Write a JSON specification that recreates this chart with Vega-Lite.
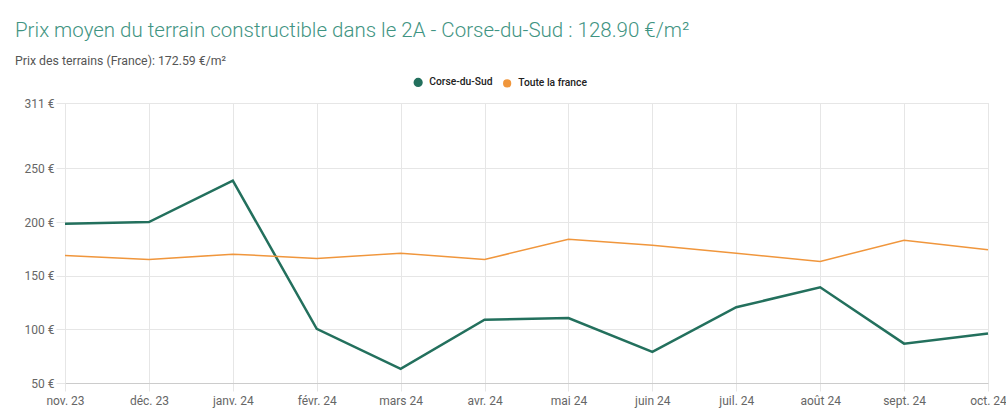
{
  "$schema": "https://vega.github.io/schema/vega-lite/v6.json",
  "width": 923,
  "height": 280,
  "autosize": {"type": "none"},
  "padding": {"left": 65, "top": 103, "right": 18, "bottom": 27},
  "background": "white",
  "title": {
    "text": "Prix moyen du terrain constructible dans le 2A - Corse-du-Sud : 128.90 €/m²",
    "subtitle": "Prix des terrains (France): 172.59 €/m²",
    "anchor": "start",
    "frame": "group",
    "dx": -50,
    "offset": 10,
    "font": "Roboto",
    "fontSize": 20.5,
    "fontWeight": 300,
    "color": "#3f9482",
    "subtitleFont": "Roboto",
    "subtitleFontSize": 12.3,
    "subtitleColor": "#555555",
    "subtitlePadding": 13
  },
  "data": {
    "values": [
      {"mois": "nov. 23", "serie": "Corse-du-Sud", "prix": 198.5},
      {"mois": "déc. 23", "serie": "Corse-du-Sud", "prix": 200},
      {"mois": "janv. 24", "serie": "Corse-du-Sud", "prix": 238.6},
      {"mois": "févr. 24", "serie": "Corse-du-Sud", "prix": 100.5},
      {"mois": "mars 24", "serie": "Corse-du-Sud", "prix": 63.2},
      {"mois": "avr. 24", "serie": "Corse-du-Sud", "prix": 109},
      {"mois": "mai 24", "serie": "Corse-du-Sud", "prix": 110.5},
      {"mois": "juin 24", "serie": "Corse-du-Sud", "prix": 79},
      {"mois": "juil. 24", "serie": "Corse-du-Sud", "prix": 120.6},
      {"mois": "août 24", "serie": "Corse-du-Sud", "prix": 139.2},
      {"mois": "sept. 24", "serie": "Corse-du-Sud", "prix": 86.7},
      {"mois": "oct. 24", "serie": "Corse-du-Sud", "prix": 96.1},
      {"mois": "nov. 23", "serie": "Toute la france", "prix": 168.8},
      {"mois": "déc. 23", "serie": "Toute la france", "prix": 165.1},
      {"mois": "janv. 24", "serie": "Toute la france", "prix": 170.1},
      {"mois": "févr. 24", "serie": "Toute la france", "prix": 166},
      {"mois": "mars 24", "serie": "Toute la france", "prix": 171},
      {"mois": "avr. 24", "serie": "Toute la france", "prix": 165.1},
      {"mois": "mai 24", "serie": "Toute la france", "prix": 184},
      {"mois": "juin 24", "serie": "Toute la france", "prix": 178.4},
      {"mois": "juil. 24", "serie": "Toute la france", "prix": 171},
      {"mois": "août 24", "serie": "Toute la france", "prix": 163.3},
      {"mois": "sept. 24", "serie": "Toute la france", "prix": 183.1},
      {"mois": "oct. 24", "serie": "Toute la france", "prix": 174.1}
    ]
  },
  "mark": {"type": "line"},
  "encoding": {
    "x": {
      "field": "mois",
      "type": "ordinal",
      "sort": null,
      "scale": {"type": "point", "padding": 0},
      "axis": {
        "title": null,
        "labelAngle": 0,
        "labelFont": "Roboto",
        "labelFontSize": 12,
        "labelColor": "#666666",
        "labelPadding": 4,
        "tickSize": 8,
        "tickColor": "#e6e6e6",
        "domainColor": "#cccccc",
        "grid": true,
        "gridColor": "#e6e6e6"
      }
    },
    "y": {
      "field": "prix",
      "type": "quantitative",
      "scale": {"domain": [50, 311], "nice": false, "zero": false},
      "axis": {
        "title": null,
        "values": [50, 100, 150, 200, 250, 311],
        "labelExpr": "datum.value + ' €'",
        "labelFont": "Roboto",
        "labelFontSize": 12,
        "labelColor": "#666666",
        "labelPadding": 2,
        "tickSize": 9,
        "tickColor": "#e6e6e6",
        "domain": false,
        "grid": true,
        "gridColor": "#e6e6e6"
      }
    },
    "color": {
      "field": "serie",
      "type": "nominal",
      "scale": {"domain": ["Corse-du-Sud", "Toute la france"], "range": ["#23705d", "#f0963c"]},
      "legend": {
        "title": null,
        "orient": "none",
        "direction": "horizontal",
        "legendX": 348,
        "legendY": -26,
        "symbolType": "circle",
        "symbolSize": 45,
        "symbolStrokeWidth": 0,
        "labelFont": "Roboto",
        "labelFontSize": 10.3,
        "labelFontWeight": 500,
        "labelColor": "#222222",
        "columnPadding": 7,
        "labelOffset": 6,
        "encode": {
          "symbols": {"update": {"fill": {"scale": "color", "field": "value"}, "fillOpacity": {"value": 1}}}
        }
      }
    },
    "strokeWidth": {
      "field": "serie",
      "type": "nominal",
      "scale": {"domain": ["Corse-du-Sud", "Toute la france"], "range": [2.5, 1.5]},
      "legend": null
    }
  }
}
